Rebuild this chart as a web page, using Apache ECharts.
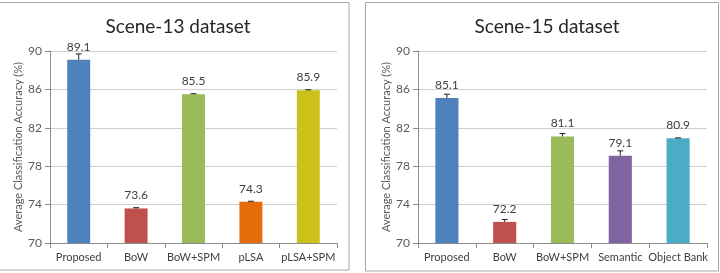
<!DOCTYPE html>
<html lang="en">
<head>
	<meta charset="UTF-8">
	<title>Scene classification accuracy</title>
	<script src="https://cdn.jsdelivr.net/npm/echarts@6/dist/echarts.min.js"></script>
	<style>
		html, body { margin: 0; padding: 0; background: #fff; }
		#chart { width: 720px; height: 273px; }
	</style>
</head>
<body>
<div id="chart"></div>
<script>
	// data
	var yTicks = [70, 74, 78, 82, 86, 90];
	var cats13 = ['Proposed', 'BoW', 'BoW+SPM', 'pLSA', 'pLSA+SPM'];
	var acc13 = [89.1, 73.6, 85.5, 74.3, 85.9];
	var err13 = [0.6, 0.08, 0.05, 0.05, 0.06];
	var colors13 = ['#4f81bd', '#c0504d', '#9bbb59', '#e46c0a', '#ccc11a'];

	var cats15 = ['Proposed', 'BoW', 'BoW+SPM', 'Semantic', 'Object Bank'];
	var acc15 = [85.1, 72.2, 81.1, 79.1, 80.9];
	var err15 = [0.4, 0.25, 0.3, 0.5, 0.05];
	var colors15 = ['#4f81bd', '#c0504d', '#9bbb59', '#8064a2', '#4bacc6'];

	var font = 'Lato, "Open Sans", sans-serif';

	function barData(vals, colors) {
		var out = [];
		for (var i = 0; i < vals.length; i++) {
			out.push({ value: vals[i], itemStyle: { color: colors[i] } });
		}
		return out;
	}

	function errData(vals, errs) {
		var out = [];
		for (var i = 0; i < vals.length; i++) {
			out.push([i, vals[i], vals[i] + errs[i]]);
		}
		return out;
	}

	function renderErr(params, api) {
		var lo = api.coord([api.value(0), api.value(1)]);
		var hi = api.coord([api.value(0), api.value(2)]);
		var half = 3;
		var st = { stroke: '#222', lineWidth: 1 };
		return {
			type: 'group',
			children: [
				{ type: 'line', shape: { x1: lo[0], y1: lo[1], x2: hi[0], y2: hi[1] }, style: st },
				{ type: 'line', shape: { x1: hi[0] - half, y1: hi[1], x2: hi[0] + half, y2: hi[1] }, style: st }
			]
		};
	}

	function yAxis(idx) {
		return {
			type: 'value', gridIndex: idx, min: yTicks[0], max: yTicks[yTicks.length - 1], interval: 4,
			name: 'Average Classification Accuracy (%)',
			nameLocation: 'middle', nameGap: 26,
			nameTextStyle: { fontFamily: font, fontSize: 11, color: '#595959' },
			axisLine: { show: true, lineStyle: { color: '#8c8c8c' } },
			axisTick: { show: true, length: 5, lineStyle: { color: '#8c8c8c' } },
			axisLabel: { fontFamily: font, fontSize: 12, color: '#595959', margin: 8 },
			splitLine: { lineStyle: { color: '#d0d0d0' } }
		};
	}

	function xAxis(idx, cats) {
		return {
			type: 'category', gridIndex: idx, data: cats,
			axisLine: { lineStyle: { color: '#8c8c8c' } },
			axisTick: { show: true, length: 5, lineStyle: { color: '#8c8c8c' } },
			axisLabel: { fontFamily: font, fontSize: 11, color: '#404040', margin: 9, interval: 0 }
		};
	}

	function bars(idx, vals, colors) {
		return {
			type: 'bar', xAxisIndex: idx, yAxisIndex: idx, barWidth: '40%',
			data: barData(vals, colors),
			label: {
				show: true, position: 'top', distance: 7,
				fontFamily: font, fontSize: 12, color: '#404040'
			},
			z: 2
		};
	}

	function errs(idx, vals, e) {
		return {
			type: 'custom', xAxisIndex: idx, yAxisIndex: idx,
			data: errData(vals, e), renderItem: renderErr, z: 3, silent: true
		};
	}

	var chart = echarts.init(document.getElementById('chart'), null, { renderer: 'canvas' });
	chart.setOption({
		animation: false,
		backgroundColor: '#fff',
		title: [
			{ text: 'Scene-13 dataset', left: 173, top: 12, textAlign: 'center',
				textStyle: { fontFamily: font, fontSize: 19, fontWeight: 'normal', color: '#262626' } },
			{ text: 'Scene-15 dataset', left: 542, top: 12, textAlign: 'center',
				textStyle: { fontFamily: font, fontSize: 19, fontWeight: 'normal', color: '#262626' } }
		],
		graphic: [
			{ type: 'rect', shape: { x: -1, y: 2.5, width: 350, height: 267.5 },
				style: { fill: 'none', stroke: '#a6a6a6', lineWidth: 1 }, silent: true },
			{ type: 'rect', shape: { x: 365.5, y: 2.5, width: 353, height: 268.5 },
				style: { fill: 'none', stroke: '#a6a6a6', lineWidth: 1 }, silent: true }
		],
		grid: [
			{ left: 50, right: 383, top: 51, bottom: 30 },
			{ left: 418, right: 13, top: 51, bottom: 30 }
		],
		xAxis: [xAxis(0, cats13), xAxis(1, cats15)],
		yAxis: [yAxis(0), yAxis(1)],
		series: [
			bars(0, acc13, colors13),
			errs(0, acc13, err13),
			bars(1, acc15, colors15),
			errs(1, acc15, err15)
		]
	});
</script>
</body>
</html>
